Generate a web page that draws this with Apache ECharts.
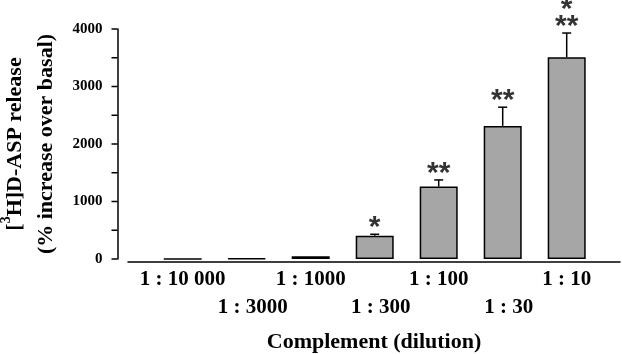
<!DOCTYPE html>
<html>
<head>
<meta charset="utf-8">
<script src="https://cdn.jsdelivr.net/npm/echarts@6/dist/echarts.min.js"></script>
<style>
  html, body { margin: 0; padding: 0; background: #fff; }
  #chart { width: 622px; height: 354px; }
</style>
</head>
<body>
<div id="chart"></div>
<script>
// complement dilutions, left to right
const dilutions = ["1 : 10 000", "1 : 3000", "1 : 1000", "1 : 300", "1 : 100", "1 : 30", "1 : 10"];
// [3H]D-ASP release, % increase over basal
const release = [2, 12, 50, 405, 1260, 2315, 3510];
// upper error (SEM)
const errors = [0, 0, 0, 25, 115, 325, 420];
// significance marks
const marks = ["", "", "", "*", "**", "**", "*\n**"];
// labelled ticks, and every tick mark on the y axis
const yTicks = [0, 1000, 2000, 3000, 4000];
const yTickMarks = [0, 500, 1000, 1500, 2000, 2500, 3000, 3500, 4000];

const serif = "Liberation Serif";

const chart = echarts.init(document.getElementById("chart"));

const option = {
  animation: false,
  backgroundColor: "#fff",
  grid: [
    {left: 117.5, right: 23.3, top: 29, bottom: 95, outerBoundsMode: "none"}, // y axis
    {left: 150.7, right: 23.3, top: 29, bottom: 95, outerBoundsMode: "none"}, // bars
    {left: 128, right: 2, top: 29, bottom: 92, outerBoundsMode: "none"}      // long x axis line
  ],
  title: {
    text: "Complement (dilution)",
    left: 369,
    top: 326,
    textAlign: "center",
    textStyle: {fontFamily: serif, fontWeight: "bold", fontSize: 22, color: "#000"}
  },
  xAxis: [
    {type: "value", gridIndex: 0, min: 0, max: 1, show: false},
    {
      type: "category",
      data: dilutions,
      gridIndex: 1,
      axisLine: {show: false},
      axisTick: {show: false},
      axisLabel: {
        interval: 0,
        margin: 7,
        lineHeight: 28,
        fontFamily: serif,
        fontWeight: "bold",
        fontSize: 21,
        color: "#000",
        formatter: function (v, i) {
          return i % 2 ? "\n{b|" + v + "}" : v;
        },
        rich: {
          b: {fontFamily: serif, fontWeight: "bold", fontSize: 21, lineHeight: 28, color: "#000", padding: [0, 0, 0, 12]}
        }
      }
    },
    {
      type: "value",
      gridIndex: 2,
      min: 0,
      max: 1,
      axisLine: {show: true, onZero: false, lineStyle: {color: "#000", width: 1.5}},
      axisTick: {show: false},
      axisLabel: {show: false},
      splitLine: {show: false}
    }
  ],
  yAxis: [
    {
      type: "value",
      gridIndex: 0,
      min: yTicks[0],
      max: yTicks[yTicks.length - 1],
      interval: 1000,
      name: "{n|[}{s|3}{n|H]D-ASP release}\n{n|(% increase over basal)}",
      nameLocation: "middle",
      nameGap: 55,
      nameRotate: 90,
      nameTextStyle: {
        fontFamily: serif,
        fontWeight: "bold",
        fontSize: 22,
        lineHeight: 31,
        color: "#000",
        rich: {
          n: {fontFamily: serif, fontWeight: "bold", fontSize: 22, lineHeight: 31, color: "#000"},
          s: {fontFamily: serif, fontWeight: "bold", fontSize: 14, lineHeight: 31, color: "#000", verticalAlign: "top", padding: [0, 0, 12, 0]}
        }
      },
      axisLine: {show: true, onZero: false, lineStyle: {color: "#000", width: 1.5}},
      axisTick: {show: false},
      axisLabel: {
        margin: 15,
        fontFamily: serif,
        fontWeight: "bold",
        fontSize: 15,
        color: "#000",
        formatter: v => String(v)
      },
      splitLine: {show: false}
    },
    {type: "value", gridIndex: 1, min: yTicks[0], max: yTicks[yTicks.length - 1], show: false},
    {type: "value", gridIndex: 2, min: 0, max: 1, show: false}
  ],
  series: [
    {
      // outward tick marks on the y axis, placed through the axis scale
      type: "custom",
      xAxisIndex: 0,
      yAxisIndex: 0,
      clip: false,
      silent: true,
      data: yTickMarks.map(v => [0, v]),
      renderItem: function (params, api) {
        const p = api.coord([api.value(0), api.value(1)]);
        return {
          type: "line",
          shape: {x1: p[0] - 6, y1: p[1], x2: p[0], y2: p[1]},
          style: {stroke: "#000", lineWidth: 1.5}
        };
      }
    },
    {
      type: "bar",
      xAxisIndex: 1,
      yAxisIndex: 1,
      data: release,
      barWidth: 38,
      itemStyle: {color: "#a6a6a6", borderColor: "#000", borderWidth: 1.5},
      z: 3
    },
    {
      type: "custom",
      xAxisIndex: 1,
      yAxisIndex: 1,
      data: release.map((v, i) => [i, v, v + errors[i]]),
      renderItem: function (params, api) {
        if (api.value(2) <= api.value(1)) return;
        const base = api.coord([api.value(0), api.value(1)]);
        const top = api.coord([api.value(0), api.value(2)]);
        const style = {stroke: "#000", lineWidth: 1.5};
        return {
          type: "group",
          children: [
            {type: "line", shape: {x1: base[0], y1: base[1], x2: top[0], y2: top[1]}, style: style},
            {type: "line", shape: {x1: top[0] - 4.5, y1: top[1], x2: top[0] + 4.5, y2: top[1]}, style: style}
          ]
        };
      },
      z: 2
    },
    {
      type: "scatter",
      xAxisIndex: 1,
      yAxisIndex: 1,
      symbolSize: 0,
      data: release.map((v, i) => [i, v + errors[i]]),
      label: {
        show: true,
        position: "top",
        distance: -2,
        formatter: p => marks[p.dataIndex],
        fontFamily: "Liberation Sans",
        fontWeight: "bold",
        fontSize: 30,
        lineHeight: 17,
        color: "#000"
      },
      z: 4
    }
  ]
};

chart.setOption(option);
</script>
</body>
</html>
